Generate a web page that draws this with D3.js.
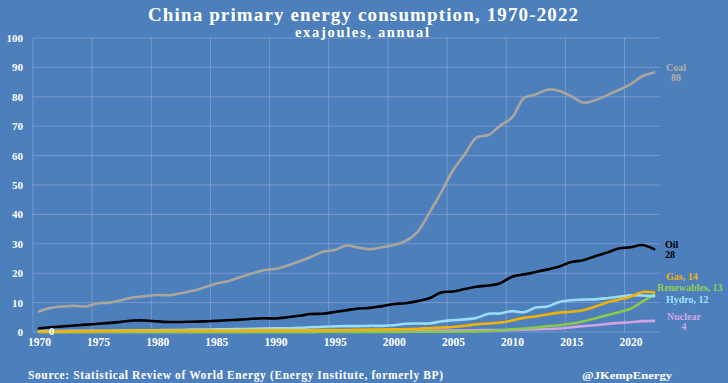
<!DOCTYPE html>
<html><head><meta charset="utf-8">
<script src="https://cdn.jsdelivr.net/npm/d3@7/dist/d3.min.js"></script>
<style>
html,body{margin:0;padding:0;background:#4c7fbc;}
svg{display:block;}
text{font-family:"Liberation Serif","DejaVu Serif",serif;font-weight:bold;}
</style></head>
<body>
<svg id="c" width="728" height="383"></svg>
<script>
const years = d3.range(1970, 2023);
const coal = [7.0,8.2,8.7,8.9,8.7,9.8,10.0,10.9,11.8,12.2,12.6,12.5,13.2,14.0,15.2,16.5,17.3,18.6,19.9,21.0,21.5,22.6,24.0,25.5,27.3,27.9,29.4,28.7,28.2,28.8,29.6,31.0,34.0,40.5,47.5,55.0,60.5,66.2,67.0,70.2,73.0,79.6,80.8,82.4,82.0,80.2,78.0,78.8,80.5,82.3,84.2,87.0,88.3];
const oil = [1.2,1.6,1.9,2.2,2.5,2.8,3.1,3.5,3.9,3.9,3.6,3.4,3.4,3.5,3.6,3.8,4.0,4.2,4.5,4.7,4.6,5.0,5.5,6.1,6.2,6.8,7.4,8.0,8.2,8.8,9.5,9.8,10.5,11.5,13.4,13.8,14.6,15.4,15.8,16.6,18.8,19.6,20.4,21.3,22.3,23.8,24.4,25.8,27.0,28.4,28.8,29.6,28.2];
const gas = [0.1,0.15,0.2,0.25,0.3,0.35,0.4,0.45,0.5,0.5,0.5,0.5,0.5,0.5,0.5,0.5,0.5,0.5,0.55,0.55,0.55,0.55,0.6,0.6,0.65,0.65,0.7,0.75,0.8,0.85,0.9,1.0,1.1,1.3,1.5,1.7,2.1,2.6,2.9,3.2,3.9,4.8,5.3,6.0,6.6,6.9,7.4,8.6,10.0,11.0,12.0,13.6,13.5];
const renewables = [0,0,0,0,0,0,0,0,0,0,0,0,0,0,0,0,0,0,0,0,0,0,0,0.01,0.01,0.02,0.02,0.03,0.03,0.04,0.05,0.06,0.07,0.08,0.09,0.1,0.15,0.2,0.35,0.6,0.9,1.2,1.5,2.0,2.3,2.9,3.6,4.6,5.7,6.7,7.9,10.3,12.8];
const hydro = [0.3,0.3,0.35,0.4,0.4,0.45,0.45,0.5,0.5,0.6,0.6,0.65,0.7,0.8,0.85,0.9,0.95,1.0,1.1,1.15,1.25,1.3,1.4,1.6,1.8,1.9,2.0,2.0,2.1,2.1,2.3,2.8,2.9,2.9,3.6,4.0,4.3,4.8,6.2,6.3,7.1,6.7,8.3,8.7,10.2,10.8,11.0,11.1,11.5,12.0,12.5,12.4,12.2];
const nuclear = [0,0,0,0,0,0,0,0,0,0,0,0,0,0,0,0,0,0,0,0,0,0,0,0.01,0.13,0.12,0.13,0.14,0.14,0.15,0.16,0.17,0.25,0.4,0.45,0.5,0.5,0.6,0.65,0.65,0.7,0.82,0.92,1.0,1.2,1.6,2.0,2.3,2.7,3.1,3.3,3.7,3.8];
const yTicks = [0,10,20,30,40,50,60,70,80,90,100];
const xTickYears = [1970,1975,1980,1985,1990,1995,2000,2005,2010,2015,2020];
const seriesNames = ["Nuclear","Renewables","Hydro","Gas","Oil","Coal"];
const seriesColors = {Coal:"#aaa69e",Oil:"#000000",Gas:"#f2b300",Renewables:"#8cc84b",Hydro:"#9adcfa",Nuclear:"#cfa3e0"};
const seriesData = {Coal:coal,Oil:oil,Gas:gas,Renewables:renewables,Hydro:hydro,Nuclear:nuclear};
const labels = [
  {name:"Coal", lines:["Coal","88"], color:"#b3ada3", x:676, y:[71,81], anchor:"middle"},
  {name:"Oil", lines:["Oil","28"], color:"#000000", x:665, y:[248,258], anchor:"start"},
  {name:"Gas", lines:["Gas, 14"], color:"#f2b300", x:666, y:[280], anchor:"start"},
  {name:"Renewables", lines:["Renewables, 13"], color:"#92d050", x:657, y:[291], anchor:"start"},
  {name:"Hydro", lines:["Hydro, 12"], color:"#a6e2ff", x:666, y:[303], anchor:"start"},
  {name:"Nuclear", lines:["Nuclear","4"], color:"#d4a6e6", x:684, y:[320,330], anchor:"middle"}
];

const svg = d3.select("#c");
const x = d3.scaleLinear().domain([1969.5, 2022.5]).range([33, 660]);
const y = d3.scaleLinear().domain([0, 100]).range([332, 38]);

// grid
const g = svg.append("g");
g.selectAll("line.h").data(yTicks).join("line")
  .attr("x1", x(1969.5)).attr("x2", x(2022.5))
  .attr("y1", d=>y(d)).attr("y2", d=>y(d))
  .attr("stroke","rgba(200,200,230,0.35)").attr("stroke-width",1);
g.selectAll("line.v").data(xTickYears).join("line")
  .attr("x1", d=>x(d-0.5)).attr("x2", d=>x(d-0.5))
  .attr("y1", y(0)).attr("y2", y(100))
  .attr("stroke","rgba(200,200,230,0.35)").attr("stroke-width",1);

// axes
const yAxis = d3.axisLeft(y).tickValues(yTicks).tickSize(0).tickPadding(0);
svg.append("g").attr("transform","translate(23,0)").call(yAxis)
  .call(s=>s.select(".domain").remove())
  .selectAll("text").attr("fill","#ffffff").attr("font-size",11)
  .style("font-family","'Liberation Serif',serif").style("font-weight","bold");
const xAxis = d3.axisBottom(x).tickValues(xTickYears).tickFormat(d3.format("d")).tickSize(0).tickPadding(0);
svg.append("g").attr("transform","translate(0,338)").call(xAxis)
  .call(s=>s.select(".domain").remove())
  .selectAll("text").attr("fill","#ffffff").attr("font-size",11.5)
  .style("font-family","'Liberation Serif',serif").style("font-weight","bold");

// lines
const line = d3.line().x((d,i)=>x(years[i])).y(d=>y(d)).curve(d3.curveCatmullRom);
seriesNames.forEach(n=>{
  svg.append("path").datum(seriesData[n]).attr("d", line)
    .attr("fill","none").attr("stroke", seriesColors[n]).attr("stroke-width", 2.6)
    .attr("stroke-linejoin","round").attr("stroke-linecap","round");
});

// zero label
svg.append("text").attr("x", x(1971)+1).attr("y", y(0)+3).attr("text-anchor","middle")
  .attr("fill","#ffffff").attr("font-size",11).text(nuclear[0]);

// series labels
labels.forEach(l=>{
  l.lines.forEach((t,i)=>{
    svg.append("text").attr("x",l.x).attr("y",l.y[i]).attr("text-anchor",l.anchor)
      .attr("fill",l.color).attr("font-size",10).text(t);
  });
});

// titles
svg.append("text").attr("x",148).attr("y",21).attr("fill","#ffffff")
  .attr("font-size",19).attr("textLength",430).attr("lengthAdjust","spacing")
  .text("China primary energy consumption, 1970-2022");
svg.append("text").attr("x",295).attr("y",37).attr("fill","#ffffff")
  .attr("font-size",14.5).attr("textLength",134).attr("lengthAdjust","spacing")
  .text("exajoules, annual");
svg.append("text").attr("x",28).attr("y",379).attr("fill","#ffffff")
  .attr("font-size",11.5).attr("textLength",415).attr("lengthAdjust","spacing")
  .text("Source: Statistical Review of World Energy (Energy Institute, formerly BP)");
svg.append("text").attr("x",582).attr("y",379).attr("fill","#ffffff")
  .attr("font-size",11).attr("textLength",90).attr("lengthAdjust","spacingAndGlyphs")
  .text("@JKempEnergy");
</script>
</body></html>
